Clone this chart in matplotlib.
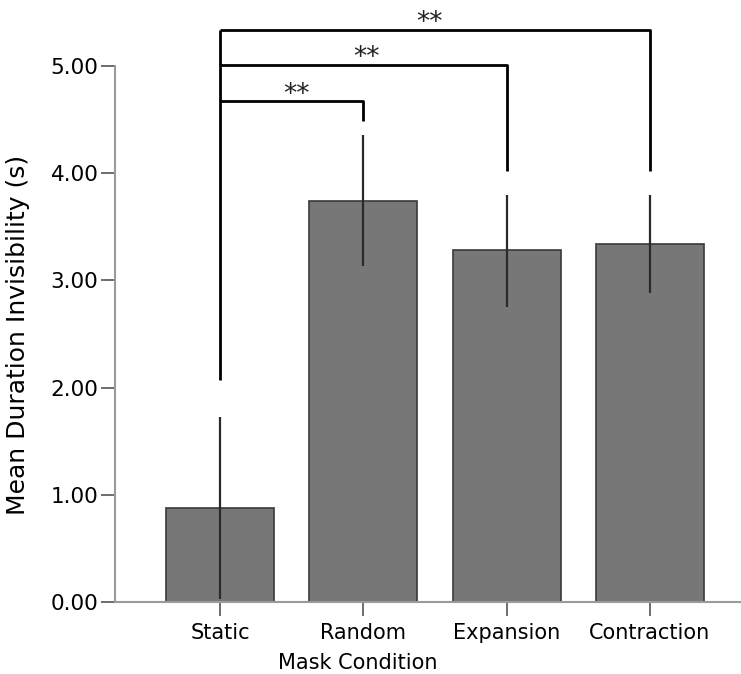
import matplotlib
matplotlib.use("Agg")
import matplotlib.pyplot as plt
import numpy as np

categories = ["Static", "Random", "Expansion", "Contraction"]
means = [0.88, 3.74, 3.28, 3.34]
err_upper = [1.73, 4.36, 3.80, 3.80]
err_lower = [0.03, 3.13, 2.75, 2.88]

# significance brackets: (from index, to index, bracket height, drop-end height, label)
brackets = [
    (0, 1, 4.67, 4.49, "**"),
    (0, 2, 5.01, 4.02, "**"),
    (0, 3, 5.34, 4.02, "**"),
]
label_shift = [0.03, 0.02, -0.04]
bracket_left_bottom = 2.07
yticks = [0, 1, 2, 3, 4, 5]

plt.rcParams['font.family'] = ['DejaVu Sans']
fig = plt.figure(figsize=(7.41, 6.74), dpi=100)
ax = fig.add_axes([115/741, 72/674, 626/741, 600.3/674])

x = np.arange(len(categories))
ax.bar(x, means, width=0.755, color="#777777", edgecolor="#3a3a3a", linewidth=1.2, zorder=2)
for xi, m, hi, lo in zip(x, means, err_upper, err_lower):
    ax.plot([xi, xi], [lo, hi], color="#2a2a2a", lw=1.6, zorder=3, solid_capstyle="butt")

top_all = max(b[2] for b in brackets)
ax.plot([0, 0], [bracket_left_bottom, top_all], color="black", lw=2, zorder=4, solid_capstyle="butt")
for (i0, i1, h, end, lab), dx in zip(brackets, label_shift):
    ax.plot([i0, i1, i1], [h, h, end], color="black", lw=2, zorder=4, solid_capstyle="butt")
    ax.text((i0 + i1) / 2 + dx, h - 0.06, lab, ha="center", va="bottom", fontsize=19, color="#222222")

ax.set_xlim(-0.733, 3.635)
ax.set_ylim(0, 5.6)
ax.set_yticks(yticks)
ax.set_yticklabels([f"{v:.2f}" for v in yticks], fontsize=15.5)
ax.set_xticks(x)
ax.set_xticklabels(categories, fontsize=15)
ax.set_ylabel("Mean Duration Invisibility (s)", fontsize=18)
ax.yaxis.set_label_coords(-0.136, 0.445)
ax.set_xlabel("Mask Condition", fontsize=15)
ax.xaxis.set_label_coords(0.388, -0.085)

for s in ["top", "right"]:
    ax.spines[s].set_visible(False)
ax.spines["left"].set_bounds(0, 5)
ax.spines["left"].set_color("#9a9a9a")
ax.spines["bottom"].set_color("#9a9a9a")
ax.spines["left"].set_linewidth(1.5)
ax.spines["bottom"].set_linewidth(1.5)
ax.tick_params(axis="both", length=10, width=1.2, color="#555555", pad=2)
ax.tick_params(axis="x", pad=5)

fig.savefig("out.png", dpi=100)
